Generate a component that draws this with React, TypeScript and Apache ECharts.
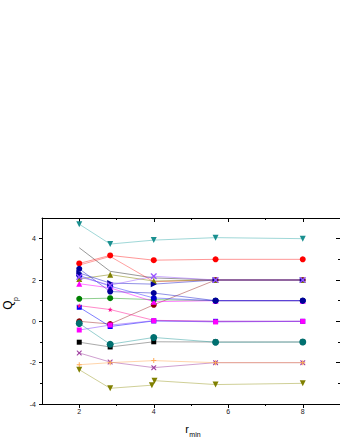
import React, { useEffect, useRef } from "react";
import * as echarts from "echarts";

const rMin = [2, 2.83, 4, 5.66, 8];
const xMajor = [2, 4, 6, 8];
const xMinor = [3, 5, 7];
const yMajor = [-4, -2, 0, 2, 4];
const yMinor = [-3, -1, 1, 3];

const tealTri = [4.7, 3.74, 3.93, 4.05, 4.0];
const redCircle = [2.8, 3.19, 2.96, 3.0, 3.0];
const redLine = [2.72, 3.14, 1.92, 2.0, 2.0];
const grayLine = [3.56, 2.42, 2.1, 2.0, 2.0];
const oliveUp = [2.05, 2.26, 1.95, 2.0, 2.0];
const navyRight = [2.34, 1.85, 1.8, 2.0, 2.0];
const navyCircle = [2.54, 1.44, 1.37, 1.0, 1.0];
const blueCircle = [2.22, 1.7, 1.13, 1.0, 1.0];
const violetCross = [2.15, 1.75, 2.18, 2.0, 2.0];
const magentaTri = [1.82, 1.62, 0.95, 1.0, 1.0];
const greenCircle = [1.09, 1.12, 1.05, 1.0, 1.0];
const blueSquare = [0.68, -0.25, 0.02, 0.0, 0.0];
const pinkStar = [0.76, 0.57, 0.05, 0.0, 0.0];
const darkRed = [0.0, -0.13, 0.8, 2.0, 2.0];
const magentaSquare = [-0.42, -0.18, 0.03, -0.03, 0.0];
const tealSquare = [-0.1, -1.11, -0.78, -1.01, -1.0];
const blackSquare = [-1.01, -1.24, -0.99, -1.0, -1.0];
const purpleCross = [-1.53, -1.97, -2.24, -2.0, -2.0];
const orangePlus = [-2.1, -2.0, -1.9, -2.0, -2.0];
const oliveDownX = [2, 2.83, 3.95, 4.02, 5.66, 8];
const oliveDownY = [-2.34, -3.24, -3.09, -2.87, -3.06, -3.0];

const TRI_DOWN = "path://M0,0L10,0L5,9Z";
const TRI_RIGHT = "path://M0,0L9,5L0,10Z";
const CROSS =
  "path://M0,0L1.6,0L5,3.4L8.4,0L10,0L10,1.6L6.6,5L10,8.4L10,10L8.4,10L5,6.6L1.6,10L0,10L0,8.4L3.4,5L0,1.6Z";
const PLUS = "path://M4,0H6V4H10V6H6V10H4V6H0V4H4Z";
const STAR =
  "path://M5,0L6.2,3.6L10,3.8L7,6.1L8.1,10L5,7.7L1.9,10L3,6.1L0,3.8L3.8,3.6Z";

function mk(
  name: string,
  xs: number[],
  ys: number[],
  color: string,
  symbol: string,
  size = 6,
  lineColor?: string
) {
  return {
    name,
    type: "line",
    data: ys.map((y, i) => [xs[i], y]),
    symbol,
    symbolSize: size,
    showSymbol: symbol !== "none",
    itemStyle: { color },
    lineStyle: { color: lineColor || color, width: 1, opacity: 0.5 },
    xAxisIndex: 0,
    yAxisIndex: 0,
  };
}

export default function App() {
  const ref = useRef<HTMLDivElement>(null);
  useEffect(() => {
    if (!ref.current) return;
    const chart = echarts.init(ref.current, undefined, { renderer: "svg" });
    const font = "Liberation Sans";
    const lineBlack = { show: true, onZero: false, lineStyle: { color: "#000", width: 1 } };
    const noLine = { show: false, onZero: false };
    const xBase = { type: "value", min: 1, max: 9, splitLine: { show: false } };
    const yBase = { type: "value", min: -4, max: 5, splitLine: { show: false } };
    const option: any = {
      animation: false,
      backgroundColor: "#fff",
      grid: { left: 42, top: 218, width: 300, height: 186, containLabel: false },
      xAxis: [
        {
          ...xBase,
          position: "bottom",
          axisLine: lineBlack,
          axisTick: { show: true, customValues: xMajor, length: 4, inside: false, lineStyle: { color: "#000" } },
          axisLabel: { show: true, customValues: xMajor, fontSize: 7, color: "#222", margin: 4, fontFamily: font },
        },
        {
          ...xBase,
          position: "bottom",
          axisLine: noLine,
          axisTick: { show: true, customValues: xMinor, length: 2, inside: false, lineStyle: { color: "#000" } },
          axisLabel: { show: false },
        },
        {
          ...xBase,
          position: "top",
          axisLine: lineBlack,
          axisTick: { show: true, customValues: xMajor, length: 4, inside: true, lineStyle: { color: "#000" } },
          axisLabel: { show: false },
        },
        {
          ...xBase,
          position: "top",
          axisLine: noLine,
          axisTick: { show: true, customValues: xMinor, length: 2, inside: true, lineStyle: { color: "#000" } },
          axisLabel: { show: false },
        },
      ],
      yAxis: [
        {
          ...yBase,
          position: "left",
          axisLine: lineBlack,
          axisTick: { show: true, customValues: yMajor, length: 3, inside: false, lineStyle: { color: "#000" } },
          axisLabel: { show: true, customValues: yMajor, fontSize: 7, color: "#222", margin: 6, fontFamily: font },
        },
        {
          ...yBase,
          position: "left",
          axisLine: noLine,
          axisTick: { show: true, customValues: yMinor, length: 2, inside: false, lineStyle: { color: "#000" } },
          axisLabel: { show: false },
        },
        {
          ...yBase,
          position: "right",
          axisLine: lineBlack,
          axisTick: { show: true, customValues: yMajor, length: 4, inside: true, lineStyle: { color: "#000" } },
          axisLabel: { show: false },
        },
        {
          ...yBase,
          position: "right",
          axisLine: noLine,
          axisTick: { show: true, customValues: yMinor, length: 2, inside: true, lineStyle: { color: "#000" } },
          axisLabel: { show: false },
        },
      ],
      graphic: [
        {
          type: "text",
          x: 8,
          y: 305,
          rotation: Math.PI / 2,
          style: { text: "Q", fontSize: 12, fontFamily: font, fill: "#000", align: "center", verticalAlign: "middle" },
        },
        {
          type: "text",
          x: 15,
          y: 299,
          rotation: Math.PI / 2,
          style: { text: "p", fontSize: 7, fontFamily: font, fill: "#000", align: "center", verticalAlign: "middle" },
        },
        {
          type: "text",
          x: 187,
          y: 429,
          style: { text: "r", fontSize: 11, fontFamily: font, fill: "#000", align: "center", verticalAlign: "middle" },
        },
        {
          type: "text",
          x: 195,
          y: 434.5,
          style: { text: "min", fontSize: 7, fontFamily: font, fill: "#000", align: "center", verticalAlign: "middle" },
        },
      ],
      series: [
        mk("grayLine", rMin, grayLine, "#444", "none", 0, "#333"),
        mk("redLine", rMin, redLine, "#ff2020", "none", 0, "#ff4040"),
        mk("darkRed", rMin, darkRed, "#8b0000", "circle", 6, "#a03030"),
        mk("greenCircle", rMin, greenCircle, "#008000", "circle", 6, "#20a020"),
        mk("blackSquare", rMin, blackSquare, "#000000", "rect", 5, "#555"),
        mk("tealSquare", rMin, tealSquare, "#007070", "circle", 7, "#30a0a0"),
        mk("tealTri", rMin, tealTri, "#1a9090", TRI_DOWN, 6, "#3fb0b0"),
        mk("redCircle", rMin, redCircle, "#ff0000", "circle", 6, "#ff3030"),
        mk("oliveUp", rMin, oliveUp, "#808000", "triangle", 6),
        mk("magentaTri", rMin, magentaTri, "#ff00ff", "triangle", 6),
        mk("blueCircle", rMin, blueCircle, "#0000cc", "circle", 6, "#3333ff"),
        mk("navyRight", rMin, navyRight, "#000099", TRI_RIGHT, 6, "#2222cc"),
        mk("navyCircle", rMin, navyCircle, "#000099", "circle", 6, "#2222cc"),
        mk("violetCross", rMin, violetCross, "#9955ff", CROSS, 6),
        mk("blueSquare", rMin, blueSquare, "#0000ff", "rect", 5),
        mk("pinkStar", rMin, pinkStar, "#ff1493", STAR, 5),
        mk("magentaSquare", rMin, magentaSquare, "#ff00ff", "rect", 5, "#8040ff"),
        mk("purpleCross", rMin, purpleCross, "#a040a0", CROSS, 5),
        mk("orangePlus", rMin, orangePlus, "#ffaa55", PLUS, 5),
        mk("oliveDown", oliveDownX, oliveDownY, "#808000", TRI_DOWN, 6, "#a0a030"),
      ],
    };
    chart.setOption(option);
    return () => chart.dispose();
  }, []);
  return (
    <div
      ref={ref}
      style={{ position: "absolute", left: 0, top: 0, width: 340, height: 440, background: "#fff" }}
    />
  );
}
